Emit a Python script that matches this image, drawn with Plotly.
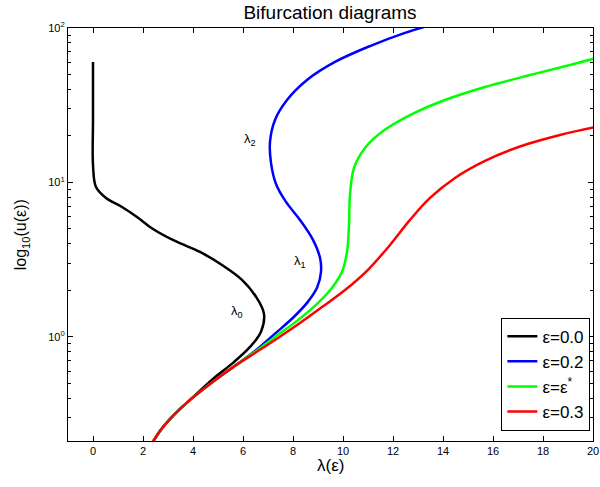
import plotly.graph_objects as go

# Solution branches u(lambda) for each epsilon (u on a log axis)
lam_eps00 = [0.0, 0.0, 0.0, 0.12, 0.52, 1.16, 1.76, 2.4, 3.28, 4.28, 5.16, 5.96, 6.52, 6.84, 6.72, 6.28, 5.6,
             4.8, 3.88, 3.2, 2.68, 2.28]
u_eps00 = [60.3, 25.4, 13.0, 9.35, 7.94, 6.94, 5.98, 5.00, 4.18, 3.55, 2.92, 2.34, 1.82, 1.41, 1.08, 0.861, 0.679,
           0.535, 0.391, 0.308, 0.246, 0.194]

lam_eps02 = [2.28, 2.68, 3.2, 3.88, 4.68, 5.56, 6.48, 7.28, 8.0, 8.56, 8.96, 9.12, 9.08, 8.8, 8.28, 7.72, 7.32,
             7.12, 7.08, 7.28, 7.76, 8.56, 9.68, 11.08, 12.48, 13.88]
u_eps02 = [0.194, 0.246, 0.308, 0.391, 0.496, 0.630, 0.811, 1.05, 1.33, 1.66, 2.08, 2.64, 3.25, 4.25, 5.72, 7.48,
           9.78, 13.4, 18.3, 25.4, 34.2, 46.1, 60.3, 76.4, 92.9, 109.0]

lam_epsstar = [2.28, 2.68, 3.2, 3.88, 4.68, 5.56, 6.48, 7.28, 8.16, 8.92, 9.56, 9.96, 10.16, 10.24, 10.28, 10.44,
               10.88, 11.6, 12.68, 14.08, 15.68, 17.48, 19.08, 20.28]
u_epsstar = [0.194, 0.246, 0.308, 0.391, 0.496, 0.630, 0.80, 1.0, 1.27, 1.61, 2.08, 2.64, 3.55, 5.31, 8.30, 12.4,
             16.7, 21.5, 27.3, 34.2, 41.5, 49.6, 57.6, 64.9]

lam_eps03 = [2.28, 2.68, 3.2, 3.88, 4.68, 5.56, 6.48, 7.28, 8.28, 9.16, 10.08, 11.0, 11.88, 12.68, 13.48, 14.48,
             15.68, 17.08, 18.68, 20.28]
u_eps03 = [0.194, 0.246, 0.308, 0.391, 0.496, 0.630, 0.787, 0.956, 1.23, 1.56, 2.01, 2.72, 3.94, 5.72, 7.94, 10.7,
           13.8, 17.1, 20.3, 23.2]

series = [
    ("ε=0.0", lam_eps00, u_eps00, "#000000"),
    ("ε=0.2", lam_eps02, u_eps02, "#0000ff"),
    ("ε=ε<sup>*</sup>", lam_epsstar, u_epsstar, "#00ff00"),
    ("ε=0.3", lam_eps03, u_eps03, "#ff0000"),
]

# Fold-point labels: (text, lambda, log10 u)
fold_labels = [("λ<sub>2</sub>", 6.28, 1.275), ("λ<sub>1</sub>", 8.28, 0.485), ("λ<sub>0</sub>", 5.76, 0.162)]

x_ticks = list(range(0, 21, 2))
y_ticks = [1, 10, 100]
y_ticktext = ["10<sup>0</sup>", "10<sup>1</sup>", "10<sup>2</sup>"]
y_minor = [0.3, 0.4, 0.5, 0.6, 0.7, 0.8, 0.9] + list(range(2, 10)) + list(range(20, 100, 10))

FONT = "Liberation Sans, Arial, Helvetica, sans-serif"

fig = go.Figure()
for name, lam, u, color in series:
    fig.add_trace(go.Scatter(
        x=lam, y=u, name=name, mode="lines",
        line=dict(color=color, width=2.5, shape="spline", smoothing=1.0),
    ))

for text, lx, ly in fold_labels:
    fig.add_annotation(x=lx, y=ly, xref="x", yref="y", text=text, showarrow=False,
                       font=dict(size=13, color="#000000", family=FONT))

fig.add_annotation(x=0.5, y=-0.06, xref="paper", yref="paper", text="λ(ε)", showarrow=False,
                   font=dict(size=17, color="#000000", family=FONT), yanchor="middle")
fig.add_annotation(x=-0.088, y=0.5, xref="paper", yref="paper", text="log<sub>10</sub>(u(ε))",
                   textangle=-90, showarrow=False,
                   font=dict(size=16, color="#000000", family=FONT), xanchor="center")

fig.update_layout(
    width=600, height=487,
    margin=dict(l=68, r=7, t=28, b=46),
    paper_bgcolor="white", plot_bgcolor="white",
    font=dict(family=FONT, color="#000000"),
    title=dict(text="Bifurcation diagrams", x=0.55, xanchor="center", y=0.975, yanchor="middle",
               font=dict(size=19, color="#000000", family=FONT)),
    showlegend=True,
    legend=dict(x=0.995, xanchor="right", y=0.025, yanchor="bottom",
                bgcolor="white", bordercolor="#000000", borderwidth=1,
                font=dict(size=17, color="#000000", family=FONT),
                itemwidth=30, tracegroupgap=0),
)

fig.update_xaxes(
    range=[-1, 20], tickvals=x_ticks, ticks="inside", ticklen=5, tickcolor="#000000",
    showline=True, linecolor="#000000", linewidth=1.2, mirror="ticks", automargin=False,
    showgrid=False, zeroline=False, tickfont=dict(size=11, family=FONT, color="#000000"),
)
fig.update_yaxes(
    type="log", range=[-0.674, 2], tickvals=y_ticks, ticktext=y_ticktext,
    ticks="inside", ticklen=5, tickcolor="#000000",
    minor=dict(tickvals=y_minor, ticks="inside", ticklen=3, tickcolor="#000000", showgrid=False),
    showline=True, linecolor="#000000", linewidth=1.2, mirror="ticks", automargin=False,
    showgrid=False, zeroline=False, tickfont=dict(size=11, family=FONT, color="#000000"),
)

fig.write_html("out.html")
